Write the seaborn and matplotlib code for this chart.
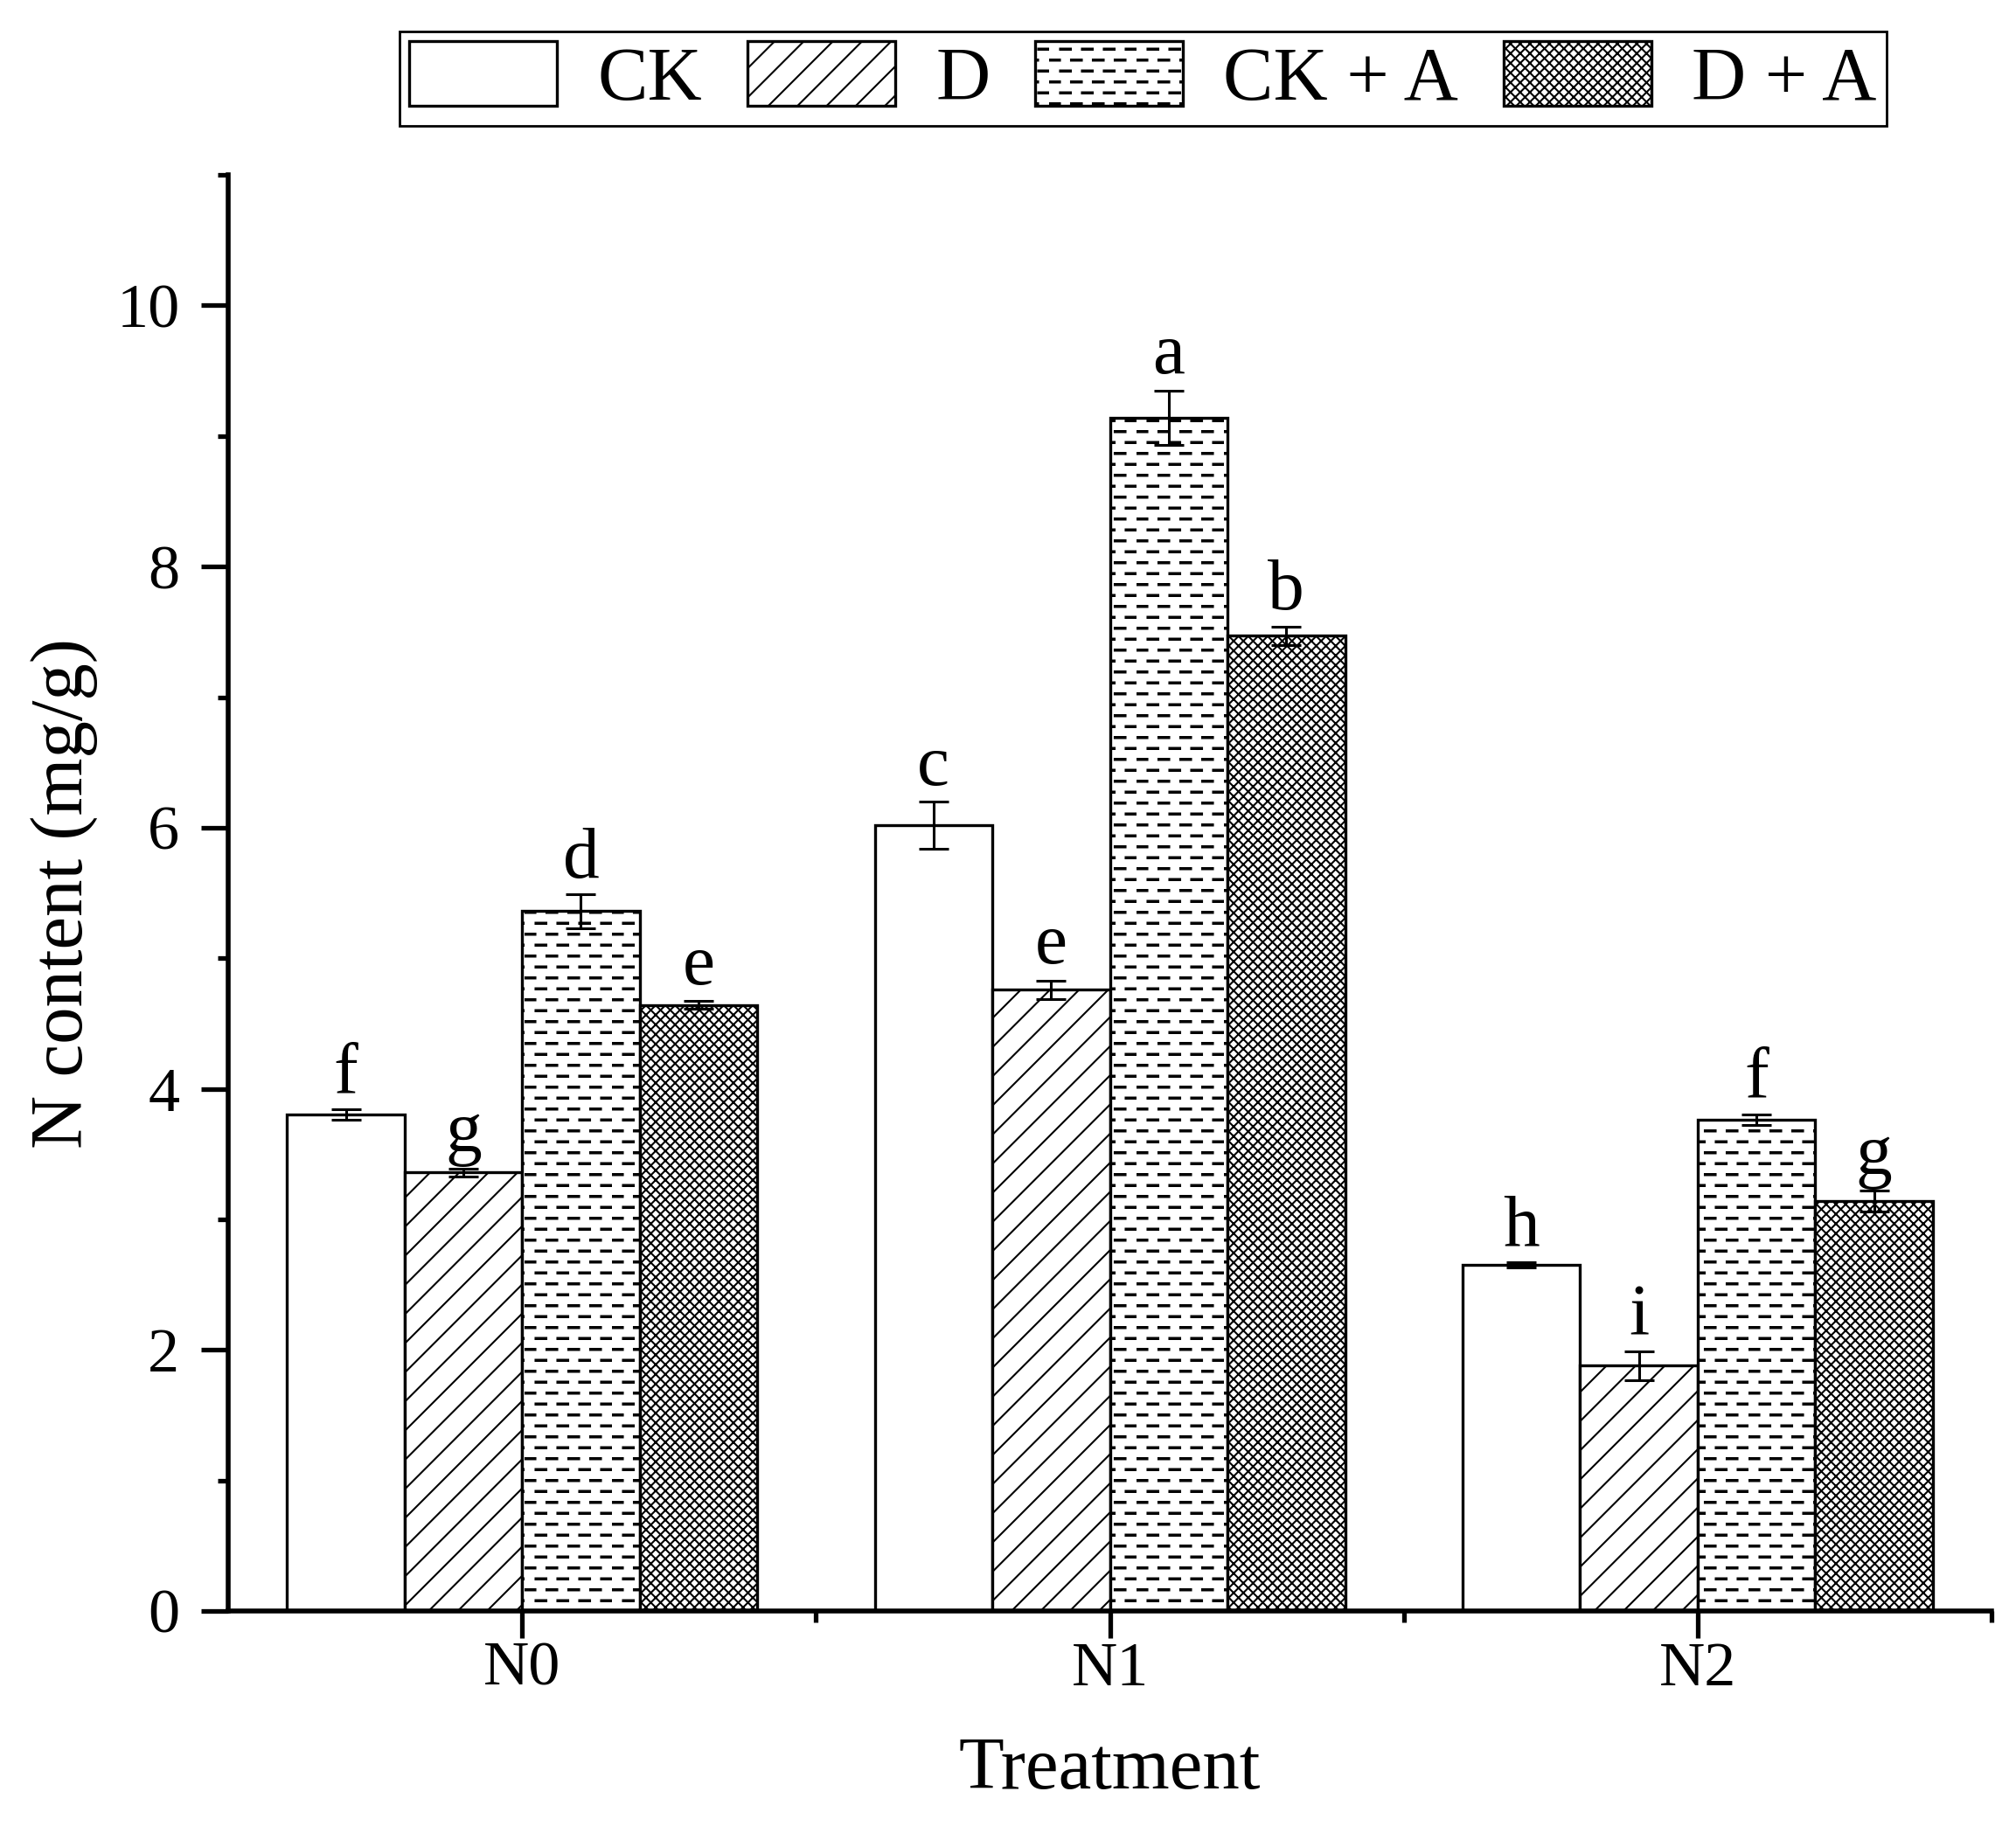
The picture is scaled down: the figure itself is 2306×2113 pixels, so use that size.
import numpy as np
import pandas as pd
import matplotlib
matplotlib.use("Agg")
import matplotlib.pyplot as plt
import matplotlib.hatch as mhatch
from matplotlib.path import Path
from matplotlib.ticker import MultipleLocator, FixedLocator
import seaborn as sns


groups = ["N0", "N1", "N2"]
treatments = ["CK", "D", "CK + A", "D + A"]

ck_mean = [3.80, 6.02, 2.65]
d_mean = [3.36, 4.76, 1.88]
cka_mean = [5.36, 9.14, 3.76]
da_mean = [4.64, 7.47, 3.14]

ck_err = [0.04, 0.18, 0.02]
d_err = [0.03, 0.07, 0.11]
cka_err = [0.13, 0.21, 0.04]
da_err = [0.03, 0.07, 0.08]

ck_letters = ["f", "c", "h"]
d_letters = ["g", "e", "i"]
cka_letters = ["d", "a", "f"]
da_letters = ["e", "b", "g"]

hatches = ["", "/", "-", "xxx"]


class DashedRows(mhatch.HatchPatternBase):
    # '-' drawn as short staggered dashes (like the Origin fill pattern)
    def __init__(self, hatch, density):
        self.num_rows = (hatch.count("-") + hatch.count("+")) * 8
        self.num_dashes = 4
        self.num_vertices = self.num_rows * self.num_dashes * 5

    def set_vertices_and_codes(self, vertices, codes):
        step = 1.0 / self.num_dashes
        hh = 0.007
        k = 0
        for i in range(self.num_rows):
            y = (i + 0.5) / self.num_rows
            shift = 0.0 if i % 2 == 0 else step / 2
            for j in range(self.num_dashes):
                x0 = j * step + shift
                x1 = x0 + step / 2
                vertices[k:k + 5] = [(x0, y - hh), (x1, y - hh), (x1, y + hh),
                                     (x0, y + hh), (x0, y - hh)]
                codes[k:k + 5] = [Path.MOVETO, Path.LINETO, Path.LINETO,
                                  Path.LINETO, Path.CLOSEPOLY]
                k += 5


mhatch._hatch_types = [DashedRows if t is mhatch.HorizontalHatch else t
                       for t in mhatch._hatch_types]

means = [ck_mean, d_mean, cka_mean, da_mean]
errs = [ck_err, d_err, cka_err, da_err]
letters = [ck_letters, d_letters, cka_letters, da_letters]

rows = []
for t, m, e, l in zip(treatments, means, errs, letters):
    for g, mv, ev, lv in zip(groups, m, e, l):
        rows.append({"group": g, "treatment": t, "value": mv, "err": ev, "letter": lv})
df = pd.DataFrame(rows)

sns.set_style("ticks")
plt.rcParams["font.family"] = ["Liberation Serif", "DejaVu Serif"]
plt.rcParams["hatch.linewidth"] = 1.5
plt.rcParams["hatch.color"] = "black"
for key in ["text.color", "axes.labelcolor", "axes.edgecolor", "xtick.color", "ytick.color"]:
    plt.rcParams[key] = "black"

fig = plt.figure(figsize=(23.06, 21.13), dpi=100)
ax = fig.add_axes([0.1132, 0.1278, 0.8747, 0.7775])

sns.barplot(data=df, x="group", y="value", hue="treatment",
            order=groups, hue_order=treatments,
            palette={t: "white" for t in treatments}, saturation=1,
            edgecolor="black", linewidth=2.4, width=0.8,
            errorbar=None, legend=False, ax=ax)

bar_conts = list(ax.containers)
for hi, cont in enumerate(bar_conts):
    for bar in cont.patches:
        bar.set_hatch(hatches[hi])
        xc = bar.get_x() + bar.get_width() / 2
        gi = int(round(xc))
        sub = df[(df["group"] == groups[gi]) & (df["treatment"] == treatments[hi])].iloc[0]
        top = sub["value"] + sub["err"]
        ax.errorbar(xc, sub["value"], yerr=sub["err"], fmt="none", ecolor="black",
                    elinewidth=2.2, capsize=12, capthick=2.2, zorder=5)
        ax.annotate(sub["letter"], (xc, top), xytext=(0, 14), textcoords="offset points",
                    ha="center", va="baseline", fontsize=60)

ax.set_xlim(-0.5, 2.5)
ax.set_ylim(0, 11)
ax.yaxis.set_major_locator(MultipleLocator(2))
ax.yaxis.set_minor_locator(MultipleLocator(1))
ax.xaxis.set_minor_locator(FixedLocator([0.5, 1.5, 2.5]))

sns.despine(ax=ax)
for s in ["left", "bottom"]:
    ax.spines[s].set_linewidth(4)

ax.tick_params(axis="both", which="major", length=22, width=3.8, labelsize=52,
               direction="out", color="black")
ax.tick_params(axis="both", which="minor", length=9, width=3.8, direction="out")
ax.tick_params(axis="y", which="major", pad=18)
ax.tick_params(axis="x", which="major", pad=3)

ax.set_xlabel("Treatment", fontsize=61, labelpad=32)
ax.set_ylabel("N content (mg/g)", fontsize=61, labelpad=15)

leg = fig.legend(handles=[c.patches[0] for c in bar_conts], labels=treatments,
                 loc="center", bbox_to_anchor=(0.567, 0.9574), ncol=4, fontsize=62,
                 frameon=True, fancybox=False, edgecolor="black", framealpha=1,
                 handlelength=1.96, handleheight=0.95, handletextpad=0.54,
                 columnspacing=0.6, borderpad=0.13, borderaxespad=0)
leg.get_frame().set_linewidth(2)

fig.savefig("out.png", dpi=100)
